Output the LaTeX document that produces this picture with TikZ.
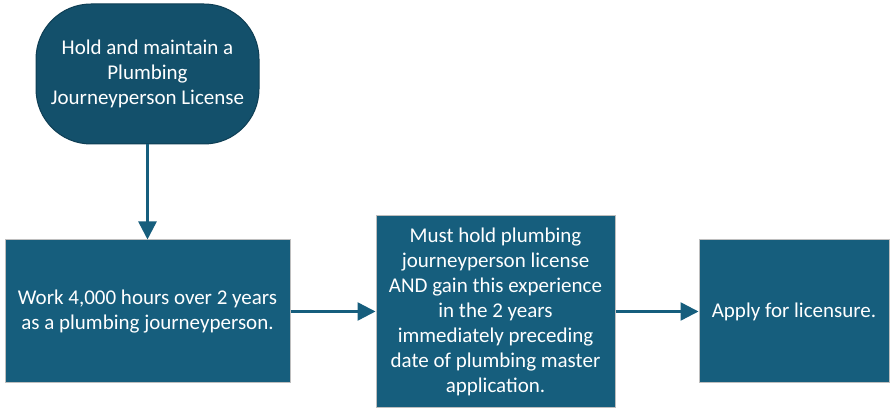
\documentclass[tikz,border=0pt]{standalone}
\usepackage{fontspec}
\setmainfont{Carlito}
\usetikzlibrary{shapes,arrows.meta}
\usetikzlibrary{positioning}

\definecolor{stepblue}{RGB}{22,94,125}
\definecolor{startblue}{RGB}{19,80,107}
\definecolor{startedge}{RGB}{14,62,84}
\definecolor{boxedge}{RGB}{190,190,190}

\tikzset{
    stepbox/.style={draw=boxedge, line width=1pt, fill=stepblue, text=white,
        align=center, inner sep=0pt,
        font=\fontsize{21}{25}\selectfont},
    startbox/.style={draw=startedge, line width=1pt, fill=startblue, text=white,
        align=center, rounded corners=55pt, inner sep=0pt,
        minimum width=223pt, minimum height=140pt,
        font=\fontsize{21}{25}\selectfont},
    flow/.style={line width=2.5pt, draw=stepblue,
        -{Triangle[length=18pt,width=18pt]}}
}

\begin{document}
\begin{tikzpicture}
        [x=1pt, y=1pt]
        \useasboundingbox (0,0) rectangle (890,409);
        \node [stepbox, minimum width=285pt, minimum height=143pt] (work) at (147.5,97.5)
            {Work 4,000 hours over 2 years\\as a plumbing journeyperson.};
        \node [startbox, above=95pt of work] (hold)
            {Hold and maintain a\\Plumbing\\Journeyperson License};
        \node [stepbox, minimum width=239pt, minimum height=192pt, right=85pt of work] (must)
            {Must hold plumbing\\journeyperson license\\AND gain this experience\\in the 2 years\\immediately preceding\\date of plumbing master\\application.};
        \node [stepbox, minimum width=190pt, minimum height=143pt, right=83pt of must] (apply)
            {Apply for licensure.};

        \draw [flow] (hold) -- (work);
        \draw [flow] (work) -- (must);
        \draw [flow] (must) -- (apply);
    \end{tikzpicture}
\end{document}
